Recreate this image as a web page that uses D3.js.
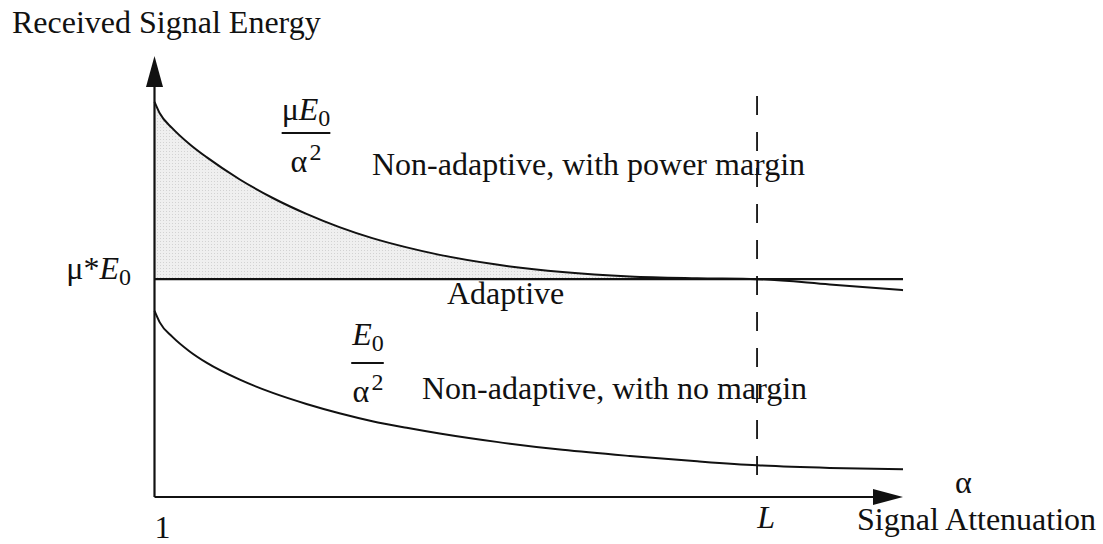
<!DOCTYPE html>
<html>
<head>
<meta charset="utf-8">
<script src="https://cdn.jsdelivr.net/npm/d3@7/dist/d3.min.js"></script>
<style>
  html, body { margin: 0; padding: 0; background: #fff; }
  svg { display: block; }
  text { font-family: "Liberation Serif", "Times New Roman", serif; fill: #111; }
</style>
</head>
<body>
<script>
// Attenuation positions (0 = α of 1, 100 = right end of the axis)
const attenuation = [0, 0.7, 2.4, 4.7, 7.0, 11.4, 15.8, 20.3, 24.7, 29.1, 33.7, 38.1, 45.7, 54.5, 63.5, 72.5, 80.5, 90.2, 100];
// Received energy of the non-adaptive scheme with power margin (μE0/α²)
const withMargin = [89.6, 87.0, 83.6, 80.0, 77.0, 72.0, 67.8, 64.2, 61.2, 58.7, 56.6, 54.9, 52.7, 51.0, 50.0, 49.6, 49.4, 48.2, 46.9];
// Received energy of the non-adaptive scheme with no margin (E0/α²)
const noMargin = [42.2, 39.6, 36.3, 33.0, 30.4, 26.6, 23.6, 21.1, 19.0, 17.2, 15.7, 14.4, 12.5, 10.7, 9.3, 8.1, 7.2, 6.6, 6.3];
// Adaptive scheme keeps the received energy at μ*E0
const adaptiveLevel = 49.4;
// Attenuation limit L
const limitL = 80.5;
// Tick labels on the attenuation axis
const xTickValues = [0, limitL];
const xTickLabels = ["1", "L"];

const W = 1103, H = 544;
const svg = d3.select("body").append("svg").attr("width", W).attr("height", H);

const x = d3.scaleLinear().domain([0, 100]).range([154.5, 903]);
const y = d3.scaleLinear().domain([0, 100]).range([497, 56]);

// shading between the power-margin curve and the adaptive level, up to L
const shadeData = attenuation.map((a, i) => ({ a, v: withMargin[i] })).filter(d => d.a <= limitL);
const defs = svg.append("defs");
const pat = defs.append("pattern").attr("id", "stipple").attr("patternUnits", "userSpaceOnUse")
  .attr("width", 3).attr("height", 3);
pat.append("rect").attr("width", 3).attr("height", 3).attr("fill", "#efefef");
pat.append("rect").attr("x", 1).attr("y", 1).attr("width", 1).attr("height", 1).attr("fill", "#d2d2d2");

svg.append("path")
  .datum(shadeData)
  .attr("fill", "url(#stipple)")
  .attr("d", d3.area().x(d => x(d.a)).y0(y(adaptiveLevel)).y1(d => y(d.v)).curve(d3.curveMonotoneX));

// curves
const line = d3.line().x(d => x(d.a)).y(d => y(d.v)).curve(d3.curveMonotoneX);
[withMargin, noMargin].forEach(series => {
  svg.append("path")
    .datum(attenuation.map((a, i) => ({ a, v: series[i] })))
    .attr("fill", "none").attr("stroke", "#111").attr("stroke-width", 2)
    .attr("d", line);
});

// adaptive level line
svg.append("line")
  .attr("x1", x(0)).attr("x2", x(100))
  .attr("y1", y(adaptiveLevel)).attr("y2", y(adaptiveLevel))
  .attr("stroke", "#111").attr("stroke-width", 2.2);

// dashed marker at L
svg.append("line")
  .attr("x1", x(limitL)).attr("x2", x(limitL))
  .attr("y1", 96).attr("y2", y(0) - 6)
  .attr("stroke", "#111").attr("stroke-width", 1.8)
  .attr("stroke-dasharray", "19,17");

// axes (lines only, arrows added below)
const xAxis = d3.axisBottom(x).tickValues([]).tickSizeOuter(0);
const yAxis = d3.axisLeft(y).tickValues([]).tickSizeOuter(0);
svg.append("g").attr("transform", `translate(0,${y(0)})`).call(xAxis)
  .select(".domain").attr("stroke", "#111").attr("stroke-width", 2.2)
  .attr("d", `M${x(0)},0H${x(100) - 20}`);
svg.append("g").attr("transform", `translate(${x(0)},0)`).call(yAxis)
  .select(".domain").attr("stroke", "#111").attr("stroke-width", 2.2)
  .attr("d", `M0,${y(0)}V${y(100) + 20}`);

// arrowheads
const x0 = x(0), y0 = y(0);
svg.append("path").attr("fill", "#111")
  .attr("d", `M${x0},${y(100)} L${x0 - 8.5},${y(100) + 31} L${x0 + 8.5},${y(100) + 31} Z`);
svg.append("path").attr("fill", "#111")
  .attr("d", `M${x(100)},${y0} L${x(100) - 30},${y0 - 8} L${x(100) - 30},${y0 + 8} Z`);

const fs = 32;

// axis titles
svg.append("text").attr("x", 12).attr("y", 33).attr("font-size", fs).text("Received Signal Energy");
svg.append("text").attr("x", 857).attr("y", 530).attr("font-size", fs).text("Signal Attenuation");
svg.append("text").attr("x", 955).attr("y", 493).attr("font-size", fs).text("α");

// attenuation tick labels
xTickValues.forEach((v, i) => {
  svg.append("text")
    .attr("x", x(v) + (i === 0 ? 8 : 9)).attr("y", i === 0 ? 538 : 528)
    .attr("text-anchor", "middle").attr("font-size", fs)
    .attr("font-style", i === 0 ? "normal" : "italic")
    .text(xTickLabels[i]);
});

// μ*E0 level label
const lvl = svg.append("text").attr("x", 131).attr("y", y(adaptiveLevel)).attr("text-anchor", "end").attr("font-size", fs);
lvl.append("tspan").text("μ*");
lvl.append("tspan").attr("font-style", "italic").text("E");
lvl.append("tspan").attr("font-size", fs * 0.75).attr("dy", 6).text("0");

// fraction labels
function fraction(cx, numY, barY, denY, withMu) {
  const num = svg.append("text").attr("x", cx).attr("y", numY).attr("text-anchor", "middle").attr("font-size", fs);
  if (withMu) num.append("tspan").text("μ");
  num.append("tspan").attr("font-style", "italic").text("E");
  num.append("tspan").attr("font-size", fs * 0.75).attr("dy", 6).text("0");
  const nb = num.node().getBBox();
  svg.append("line").attr("x1", nb.x).attr("x2", nb.x + nb.width)
    .attr("y1", barY).attr("y2", barY).attr("stroke", "#111").attr("stroke-width", 2);
  const den = svg.append("text").attr("x", cx).attr("y", denY).attr("text-anchor", "middle").attr("font-size", fs);
  den.append("tspan").text("α");
  den.append("tspan").attr("font-size", fs * 0.75).attr("dy", -12).attr("dx", 2).text("2");
}
fraction(306, 120, 133, 172, true);
fraction(368, 345, 363, 402, false);

// scheme labels
svg.append("text").attr("x", 372).attr("y", 175).attr("font-size", fs).text("Non-adaptive, with power margin");
svg.append("text").attr("x", 447).attr("y", 304).attr("font-size", fs).text("Adaptive");
svg.append("text").attr("x", 422).attr("y", 399).attr("font-size", fs).text("Non-adaptive, with no margin");
</script>
</body>
</html>
